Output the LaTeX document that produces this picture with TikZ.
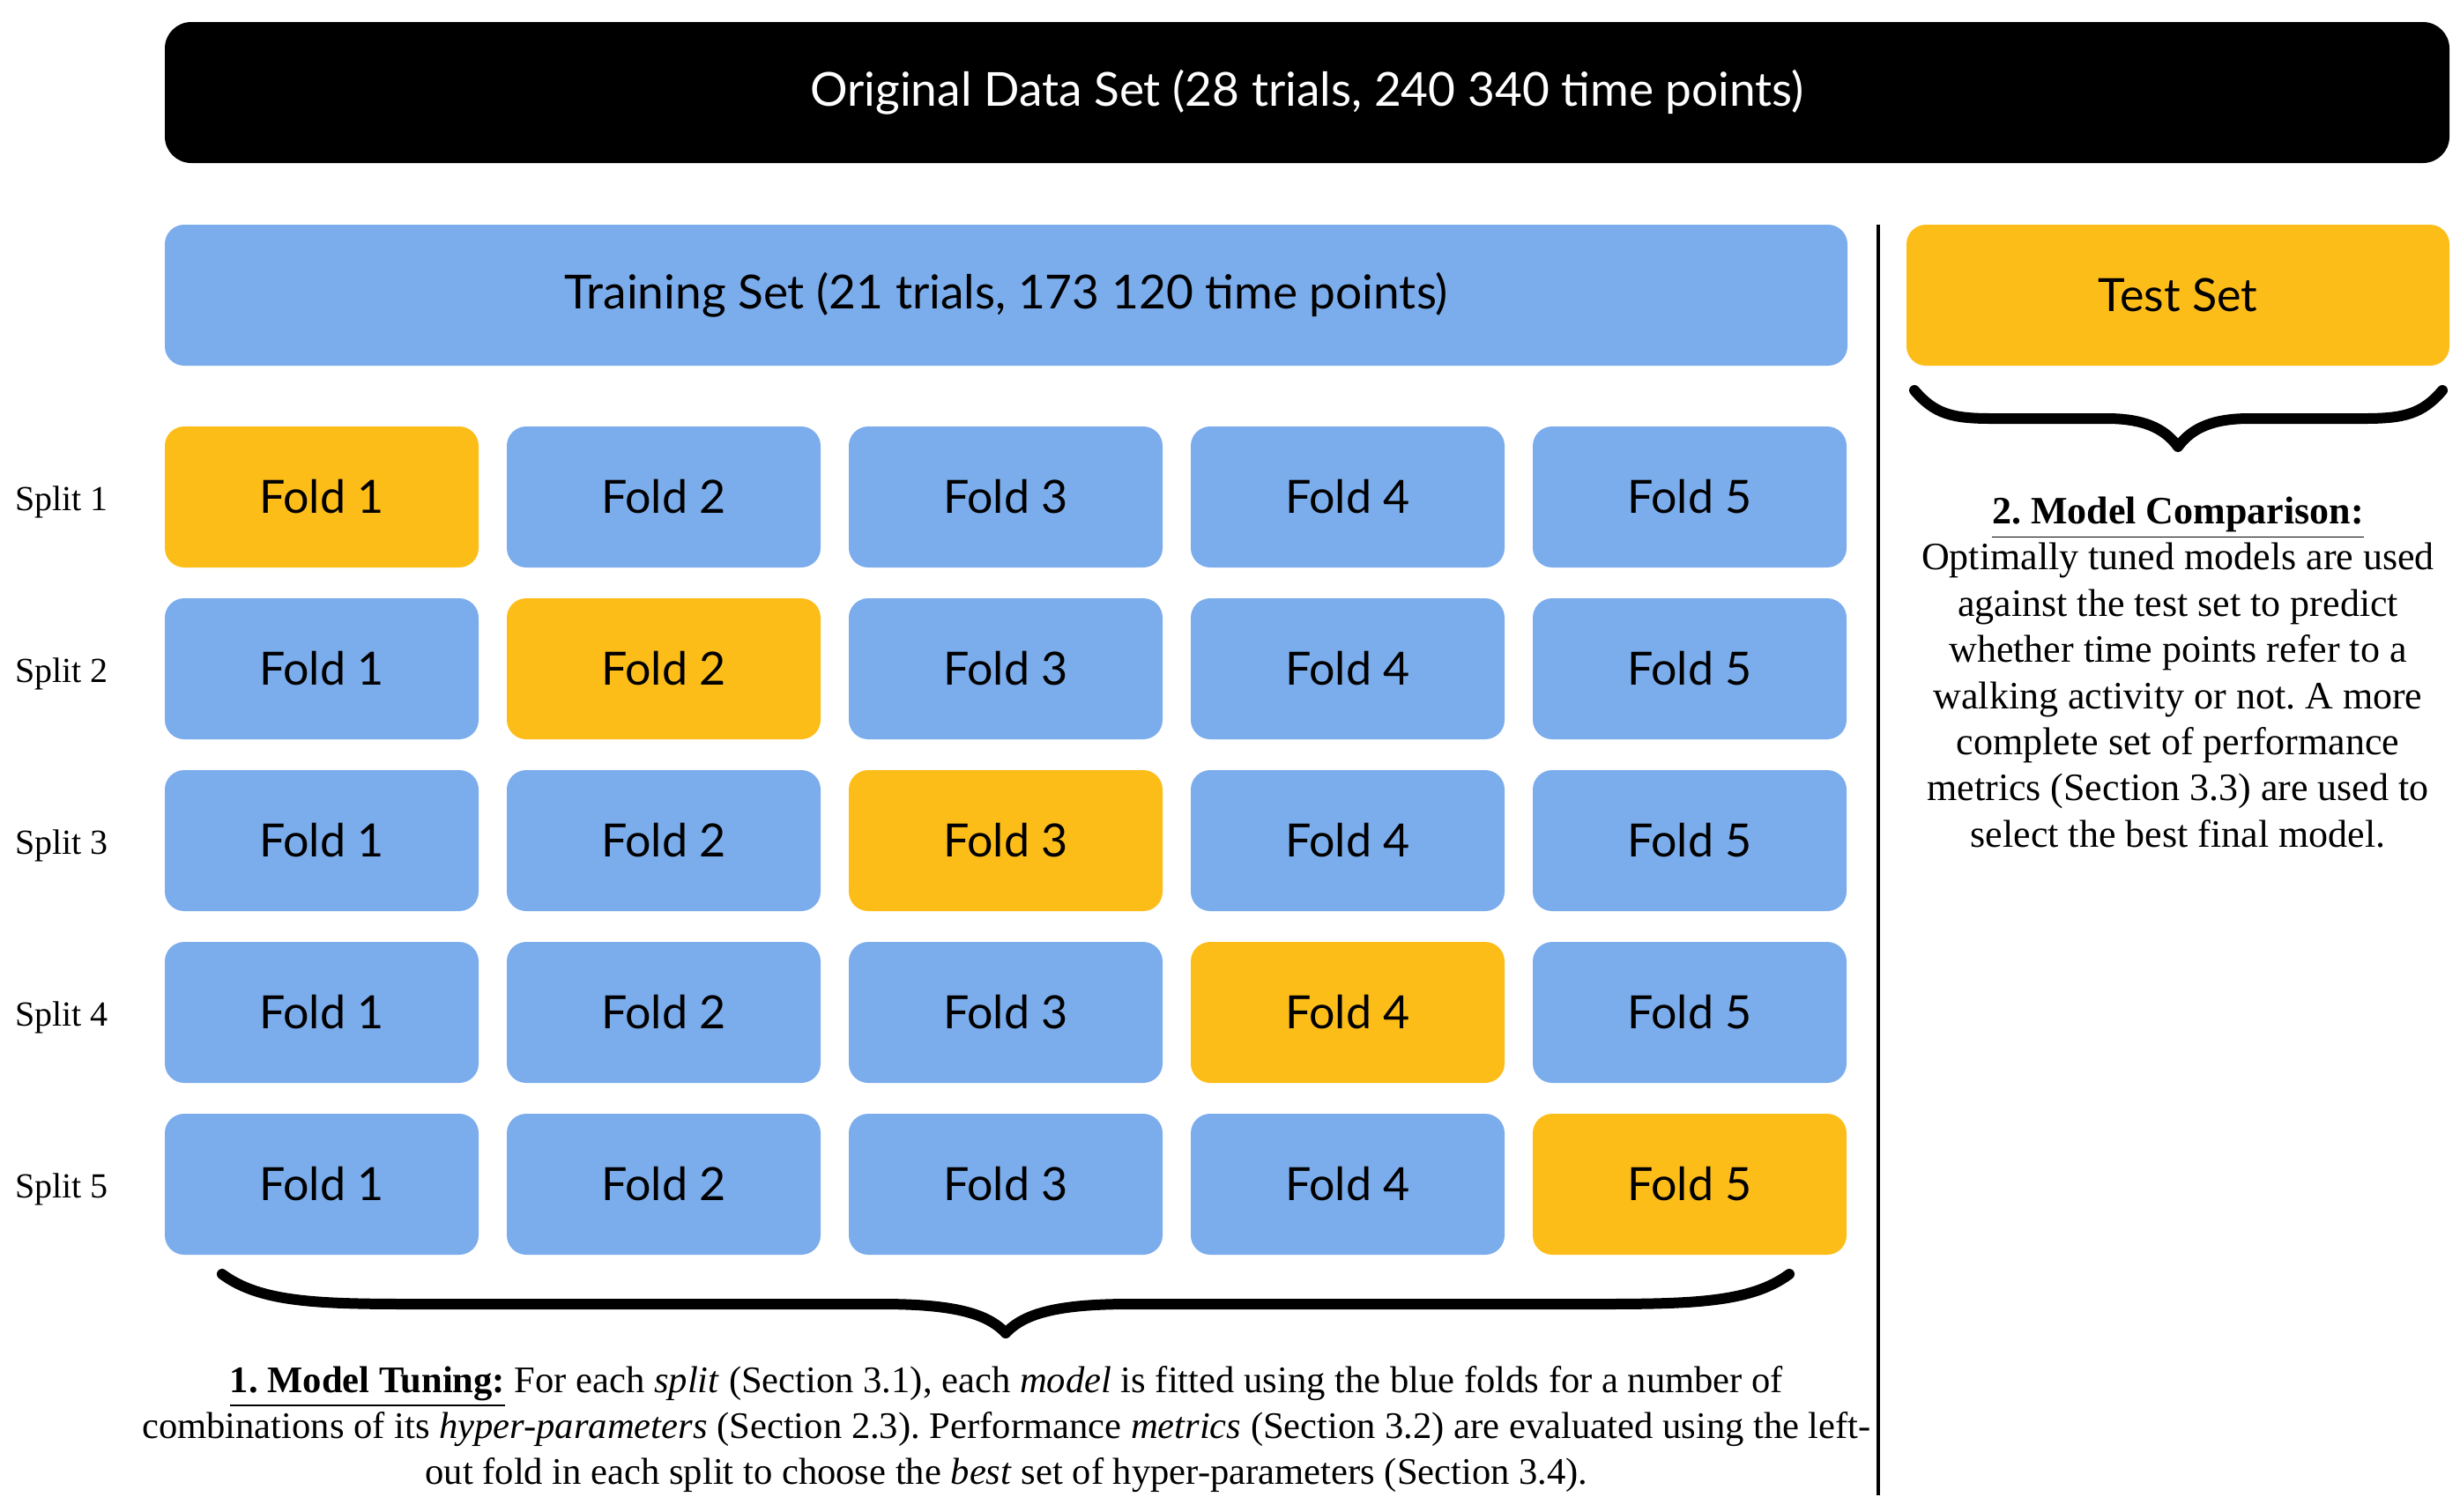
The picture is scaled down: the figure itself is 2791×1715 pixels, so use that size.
\documentclass[tikz,border=0pt]{standalone}
\usepackage{fontspec}
\setmainfont{Liberation Serif}
\newfontfamily\boxfont{Lato}
\definecolor{foldblue}{RGB}{123,172,235}
\definecolor{foldyellow}{RGB}{253,189,25}
\frenchspacing
\begin{document}
\begin{tikzpicture}[x=0.25pt,y=-0.25pt,
  box/.style={rounded corners=5.5pt, minimum height=40pt, inner sep=0pt, text=black,
              font=\boxfont\fontsize{13}{15}\selectfont},
  fold/.style={box, minimum width=89pt},
  splitlbl/.style={font=\fontsize{10}{12}\selectfont, inner sep=0pt},
  note/.style={align=center, inner sep=0pt, font=\fontsize{11}{13.1}\selectfont},
  brace/.style={line width=3pt, line cap=round, line join=round},
  divider/.style={line width=0.8pt}]
\useasboundingbox (0,0) rectangle (2791,1715);
% top boxes
\node[box, fill=black, text=white, rounded corners=7.5pt, minimum width=648pt,
      font=\boxfont\fontsize{13.3}{15}\selectfont] (orig) at (1483,105)
      {Original Data Set (28 trials, 240 340 time points)};
\node[box, fill=foldblue, minimum width=477.25pt,
      font=\boxfont\fontsize{13.3}{15}\selectfont] (train) at (1141.5,335)
      {Training Set (21 trials, 173 120 time points)};
\node[box, fill=foldyellow, minimum width=154pt] (test) at (2471,335) {Test Set};
% folds
\foreach \r in {1,...,5}{
  \node[splitlbl] (s\r) at (70,{570+195*(\r-1)}) {Split \r};
  \foreach \c in {1,...,5}{
    \ifnum\r=\c\def\col{foldyellow}\else\def\col{foldblue}\fi
    \node[fold, fill=\col] (f\r\c) at ({365+388*(\c-1)},{564+195*(\r-1)}) {Fold \c};
  }
}
% divider
\coordinate (dtop) at (2131,255);
\coordinate (dbot) at (2131,1697);
\draw[divider] (dtop) -- (dbot);
% bottom brace
\draw[brace] (252,1446) .. controls (295,1478) and (360,1480) .. (470,1480)
  -- (1000,1480) .. controls (1080,1480) and (1120,1490) .. (1141,1513)
  .. controls (1162,1490) and (1202,1480) .. (1282,1480)
  -- (1812,1480) .. controls (1922,1480) and (1987,1478) .. (2030,1446);
% right brace
\draw[brace] (2172,443) .. controls (2195,470) and (2215,475) .. (2260,475)
  -- (2390,475) .. controls (2430,475) and (2455,485) .. (2471,507)
  .. controls (2487,485) and (2512,475) .. (2552,475)
  -- (2682,475) .. controls (2727,475) and (2748,470) .. (2771,443);
% notes
\node[note, font=\fontsize{10.65}{13.1}\selectfont] (tuning) at (1142,1622) {%
  \underline{\textbf{1. Model Tuning:}} For each \textit{split} (Section 3.1), each \textit{model} is fitted using the blue folds for a number of\\
  combinations of its \textit{hyper-parameters} (Section 2.3). Performance \textit{metrics} (Section 3.2) are evaluated using the left-\\
  out fold in each split to choose the \textit{best} set of hyper-parameters (Section 3.4).};
\node[note] (comparison) at (2471,763) {%
  \underline{\textbf{2. Model Comparison:}}\\
  Optimally tuned models are used\\
  against the test set to predict\\
  whether time points refer to a\\
  walking activity or not. A more\\
  complete set of performance\\
  metrics (Section 3.3) are used to\\
  select the best final model.};
\end{tikzpicture}
\end{document}
